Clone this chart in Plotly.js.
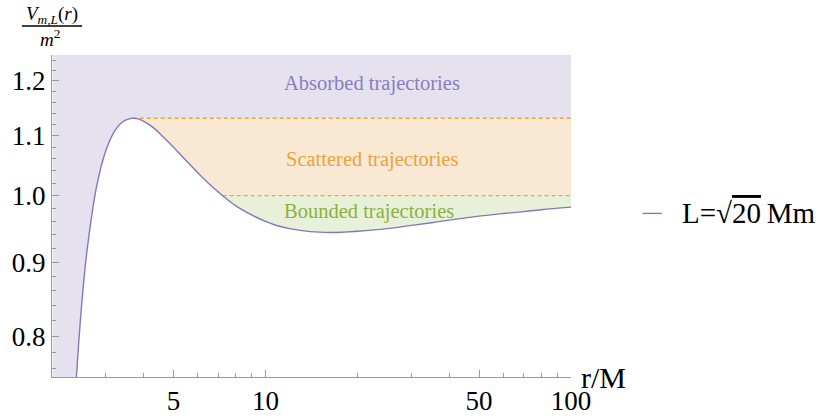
<!DOCTYPE html>
<html>
<head>
<meta charset="utf-8">
<script src="https://cdn.plot.ly/plotly-3.0.1.min.js"></script>
<style>html,body{margin:0;padding:0;background:#fff;}#chart{width:831px;height:419px;}</style>
</head>
<body>
<div id="chart"></div>
<script>
// r/M sample points and potential values V_{m,L}(r)/m^2
const rValues = [2.01, 2.1, 2.2, 2.3, 2.4, 2.5, 2.6, 2.8, 3.0, 3.2, 3.4, 3.6, 3.675, 3.8, 4.0, 4.3, 4.6, 5, 5.5, 6, 6.5, 7, 7.236, 8, 9, 10, 11, 12, 14, 16.3, 18, 20, 25, 30, 35, 40, 50, 60, 70, 80, 100];
const vValues = [0.059, 0.26, 0.467, 0.624, 0.745, 0.840, 0.914, 1.015, 1.074, 1.107, 1.124, 1.130, 1.1307, 1.130, 1.125, 1.1135, 1.099, 1.080, 1.057, 1.037, 1.020, 1.006, 1.000, 0.984, 0.970, 0.960, 0.953, 0.949, 0.9446, 0.9433, 0.9438, 0.945, 0.949, 0.954, 0.958, 0.962, 0.968, 0.972, 0.975, 0.978, 0.982];
const peakR = 3.675, peakV = 1.1307;   // maximum of the potential
const unitR = 7.236, unitV = 1.0;      // where the potential crosses 1
const topV = 1.3;
const xTickVals = [5, 10, 50, 100];
const xTickText = ['5', '10', '50', '100'];
const xMinorVals = [3, 4, 6, 7, 8, 9, 20, 30, 40, 60, 70, 80, 90];
const yTickVals = [0.8, 0.9, 1.0, 1.1, 1.2];
const yTickText = ['0.8', '0.9', '1.0', '1.1', '1.2'];
const yMinorVals = [0.76, 0.78, 0.82, 0.84, 0.86, 0.88, 0.92, 0.94, 0.96, 0.98, 1.02, 1.04, 1.06, 1.08, 1.12, 1.14, 1.16, 1.18, 1.22, 1.24];
const regionLabels = ['Absorbed trajectories', 'Scattered trajectories', 'Bounded trajectories'];
const legendName = 'L=\u221A<span style="text-decoration:overline">20</span>\u2009Mm';

const curveColor = '#8577bd';
const purpleFill = '#e5e1ef';
const orangeFill = '#f9e8d3';
const greenFill = '#e7f0d8';
const dashColor = '#e8a83a';

// derived boundaries
const purpleLow = rValues.map((r, i) => r < peakR ? vValues[i] : peakV);
const topLine = rValues.map(() => topV);
const rRight = rValues.filter(r => r >= peakR);
const vRight = vValues.filter((v, i) => rValues[i] >= peakR);
const orangeLow = vRight.map(v => Math.max(v, unitV));
const orangeTop = rRight.map(() => peakV);
const rBound = rValues.filter(r => r >= unitR);
const vBound = vValues.filter((v, i) => rValues[i] >= unitR);
const greenTop = rBound.map(() => unitV);

const noLeg = {showlegend: false, hoverinfo: 'skip'};
const traces = [
  Object.assign({x: rValues, y: purpleLow, mode: 'lines', line: {width: 0, shape: 'spline'}}, noLeg),
  Object.assign({x: rValues, y: topLine, mode: 'lines', line: {width: 0}, fill: 'tonexty', fillcolor: purpleFill}, noLeg),
  Object.assign({x: rRight, y: orangeLow, mode: 'lines', line: {width: 0, shape: 'spline'}}, noLeg),
  Object.assign({x: rRight, y: orangeTop, mode: 'lines', line: {width: 0}, fill: 'tonexty', fillcolor: orangeFill}, noLeg),
  Object.assign({x: rBound, y: vBound, mode: 'lines', line: {width: 0, shape: 'spline'}}, noLeg),
  Object.assign({x: rBound, y: greenTop, mode: 'lines', line: {width: 0}, fill: 'tonexty', fillcolor: greenFill}, noLeg),
  Object.assign({x: rRight, y: orangeTop, mode: 'lines', line: {color: dashColor, width: 1.4, dash: '4px,3px'}}, noLeg),
  Object.assign({x: rBound, y: greenTop, mode: 'lines', line: {color: dashColor, width: 1.4, dash: '4px,3px'}}, noLeg),
  {x: rValues, y: vValues, mode: 'lines', name: legendName, showlegend: false, line: {color: curveColor, width: 1.4, shape: 'spline'}, hoverinfo: 'skip'}
];

const serif = '"Times New Roman", "Liberation Serif", Tinos, serif';
const axisColor = '#9a9a9a';
const layout = {
  width: 831, height: 419,
  margin: {l: 52, r: 260, t: 55, b: 42},
  paper_bgcolor: '#ffffff', plot_bgcolor: '#ffffff',
  font: {family: serif, color: '#000'},
  showlegend: false,
  xaxis: {
    type: 'log', range: [Math.log10(2), 2], showgrid: false, zeroline: false,
    showline: true, linecolor: axisColor, linewidth: 1,
    ticks: 'inside', ticklen: 7, tickcolor: axisColor, tickwidth: 1,
    tickmode: 'array', tickvals: xTickVals, ticktext: xTickText,
    tickfont: {family: serif, size: 27, color: '#000'},
    minor: {tickmode: 'array', tickvals: xMinorVals, ticks: 'inside', ticklen: 4, tickcolor: axisColor, showgrid: false}
  },
  yaxis: {
    type: 'log', range: [Math.log10(0.75), Math.log10(1.25)], showgrid: false, zeroline: false,
    showline: true, linecolor: axisColor, linewidth: 1,
    ticks: 'inside', ticklen: 7, tickcolor: axisColor, tickwidth: 1,
    tickmode: 'array', tickvals: yTickVals, ticktext: yTickText,
    tickfont: {family: serif, size: 27, color: '#000'},
    minor: {tickmode: 'array', tickvals: yMinorVals, ticks: 'inside', ticklen: 4, tickcolor: axisColor, showgrid: false}
  },
  annotations: [
    {xref: 'paper', yref: 'paper', x: 0.617, y: 0.91, xanchor: 'center', yanchor: 'middle', text: regionLabels[0], showarrow: false,
     font: {family: serif, size: 20.5, color: '#8a7dbe'}},
    {xref: 'paper', yref: 'paper', x: 0.617, y: 0.674, xanchor: 'center', yanchor: 'middle', text: regionLabels[1], showarrow: false,
     font: {family: serif, size: 20.5, color: '#e9a43c'}},
    {xref: 'paper', yref: 'paper', x: 0.61, y: 0.515, xanchor: 'center', yanchor: 'middle', text: regionLabels[2], showarrow: false,
     font: {family: serif, size: 20.5, color: '#8db03e'}},
    {xref: 'paper', yref: 'paper', x: 1.062, y: 0.0, xanchor: 'center', yanchor: 'middle', text: 'r/M', showarrow: false,
     font: {family: serif, size: 30, color: '#000'}},
    {xref: 'paper', yref: 'paper', x: 0.0, y: 1.124, xanchor: 'center', yanchor: 'middle', text: '<i>V</i><sub><i>m,L</i></sub>(<i>r</i>)', showarrow: false,
     font: {family: serif, size: 19, color: '#000'}},
    {xref: 'paper', yref: 'paper', x: -0.004, y: 1.053, xanchor: 'center', yanchor: 'middle', text: '<i>m</i><sup>2</sup>', showarrow: false,
     font: {family: serif, size: 19, color: '#000'}},
    {xref: 'paper', yref: 'paper', x: 1.21, y: 0.51, xanchor: 'left', yanchor: 'middle', text: legendName, showarrow: false,
     font: {family: serif, size: 29, color: '#000'}}
  ],
  shapes: [
    {type: 'line', xref: 'paper', yref: 'paper', x0: -0.058, x1: 0.058, y0: 1.09, y1: 1.09, line: {color: '#000', width: 1.5}},
    {type: 'line', xref: 'paper', yref: 'paper', x0: 1.138, x1: 1.175, y0: 0.508, y1: 0.508, line: {color: curveColor, width: 1.4}}
  ]
};

Plotly.newPlot('chart', traces, layout, {staticPlot: true, displayModeBar: false});
</script>
</body>
</html>
